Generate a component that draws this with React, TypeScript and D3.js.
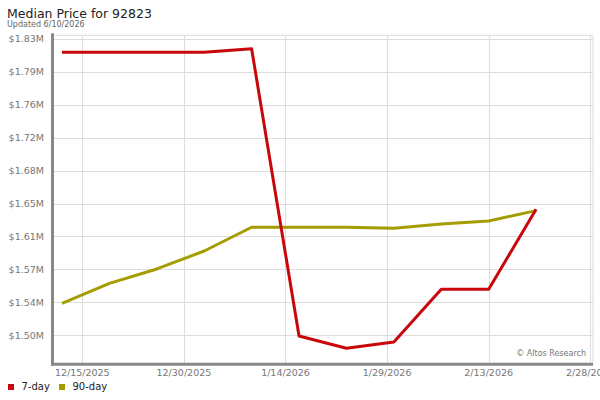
import React from 'react';
import * as d3 from 'd3';

// weekly observation dates
const dates = [
  '2025-12-12', '2025-12-19', '2025-12-26', '2026-01-02', '2026-01-09', '2026-01-16',
  '2026-01-23', '2026-01-30', '2026-02-06', '2026-02-13', '2026-02-20',
];
// median price, $M
const sevenDay = [1.8153, 1.8153, 1.8153, 1.8153, 1.819, 1.4991, 1.4854, 1.4924, 1.5512, 1.5512, 1.6403];
const ninetyDay = [1.5356, 1.5578, 1.5738, 1.5938, 1.6203, 1.6203, 1.6203, 1.6191, 1.6239, 1.6273, 1.6388];

const yTicks = [1.5, 1.5367, 1.5733, 1.61, 1.6467, 1.6833, 1.72, 1.7567, 1.7933, 1.83];
const xTicks = ['2025-12-15', '2025-12-30', '2026-01-14', '2026-01-29', '2026-02-13', '2026-02-28'];

const series = [
  { name: '7-day', values: sevenDay, color: '#c8070c' },
  { name: '90-day', values: ninetyDay, color: '#a59d00' },
];

const parse = d3.timeParse('%Y-%m-%d');
const fmtDate = d3.timeFormat('%-m/%-d/%Y');
const font = '"DejaVu Sans", sans-serif';

const App = () => {
  const left = 52.5, right = 593, top = 35.3, bottom = 364.3;

  const x = d3.scaleTime()
    .domain([new Date(2025, 11, 10, 14, 24), new Date(2026, 1, 28, 9, 36)])
    .range([left, right]);
  const y = d3.scaleLinear().domain([1.4676, 1.8341]).range([bottom, top]);

  const line = d3.line<number>()
    .x((_, i) => x(parse(dates[i])!))
    .y(d => y(d));

  return (
    <svg width={600} height={400} style={{ position: 'absolute', left: 0, top: 0, fontFamily: font }}>
      <rect width={600} height={400} fill="#fff" />
      <text x={7} y={18.3} fontSize={12.5} fill="#222">Median Price for 92823</text>
      <text x={7} y={27.3} fontSize={8} fill="#666">Updated 6/10/2026</text>

      {/* grid */}
      {yTicks.map(t => (
        <line key={t} x1={left} x2={right} y1={Math.round(y(t)) + 0.5} y2={Math.round(y(t)) + 0.5} stroke="#ddd" />
      ))}
      {xTicks.map(t => (
        <line key={t} x1={Math.round(x(parse(t)!)) + 0.5} x2={Math.round(x(parse(t)!)) + 0.5} y1={top} y2={bottom} stroke="#ddd" />
      ))}
      <line x1={left} x2={right} y1={top} y2={top} stroke="#ddd" />
      <line x1={right} x2={right} y1={top} y2={bottom} stroke="#ddd" />

      {/* y labels */}
      {yTicks.map(t => (
        <text key={t} x={44} y={y(t)} dy="0.36em" textAnchor="end" fontSize={9.5} fill="#777">
          {'$' + t.toFixed(2) + 'M'}
        </text>
      ))}
      {/* x labels */}
      {xTicks.map(t => (
        <text key={t} x={x(parse(t)!)} y={376} textAnchor="middle" fontSize={9.5} fill="#777">
          {fmtDate(parse(t)!)}
        </text>
      ))}

      <text x={586} y={356} textAnchor="end" fontSize={8} fill="#777">© Altos Research</text>

      {/* lines */}
      {[...series].reverse().map(s => (
        <path key={s.name} d={line(s.values) || ''} fill="none" stroke={s.color} strokeWidth={3} strokeLinejoin="round" />
      ))}

      {/* axes */}
      <line x1={left} x2={left} y1={top - 2} y2={bottom + 1.5} stroke="#888" strokeWidth={3} />
      <line x1={left - 1.5} x2={right} y1={bottom} y2={bottom} stroke="#888" strokeWidth={3} />

      {/* legend */}
      {series.map((s, i) => (
        <g key={s.name} transform={`translate(${8 + i * 51},384)`}>
          <rect width={6} height={6} fill={s.color} />
          <text x={13.5} y={6} fontSize={10} fill="#222">{s.name}</text>
        </g>
      ))}
    </svg>
  );
};

export default App;
